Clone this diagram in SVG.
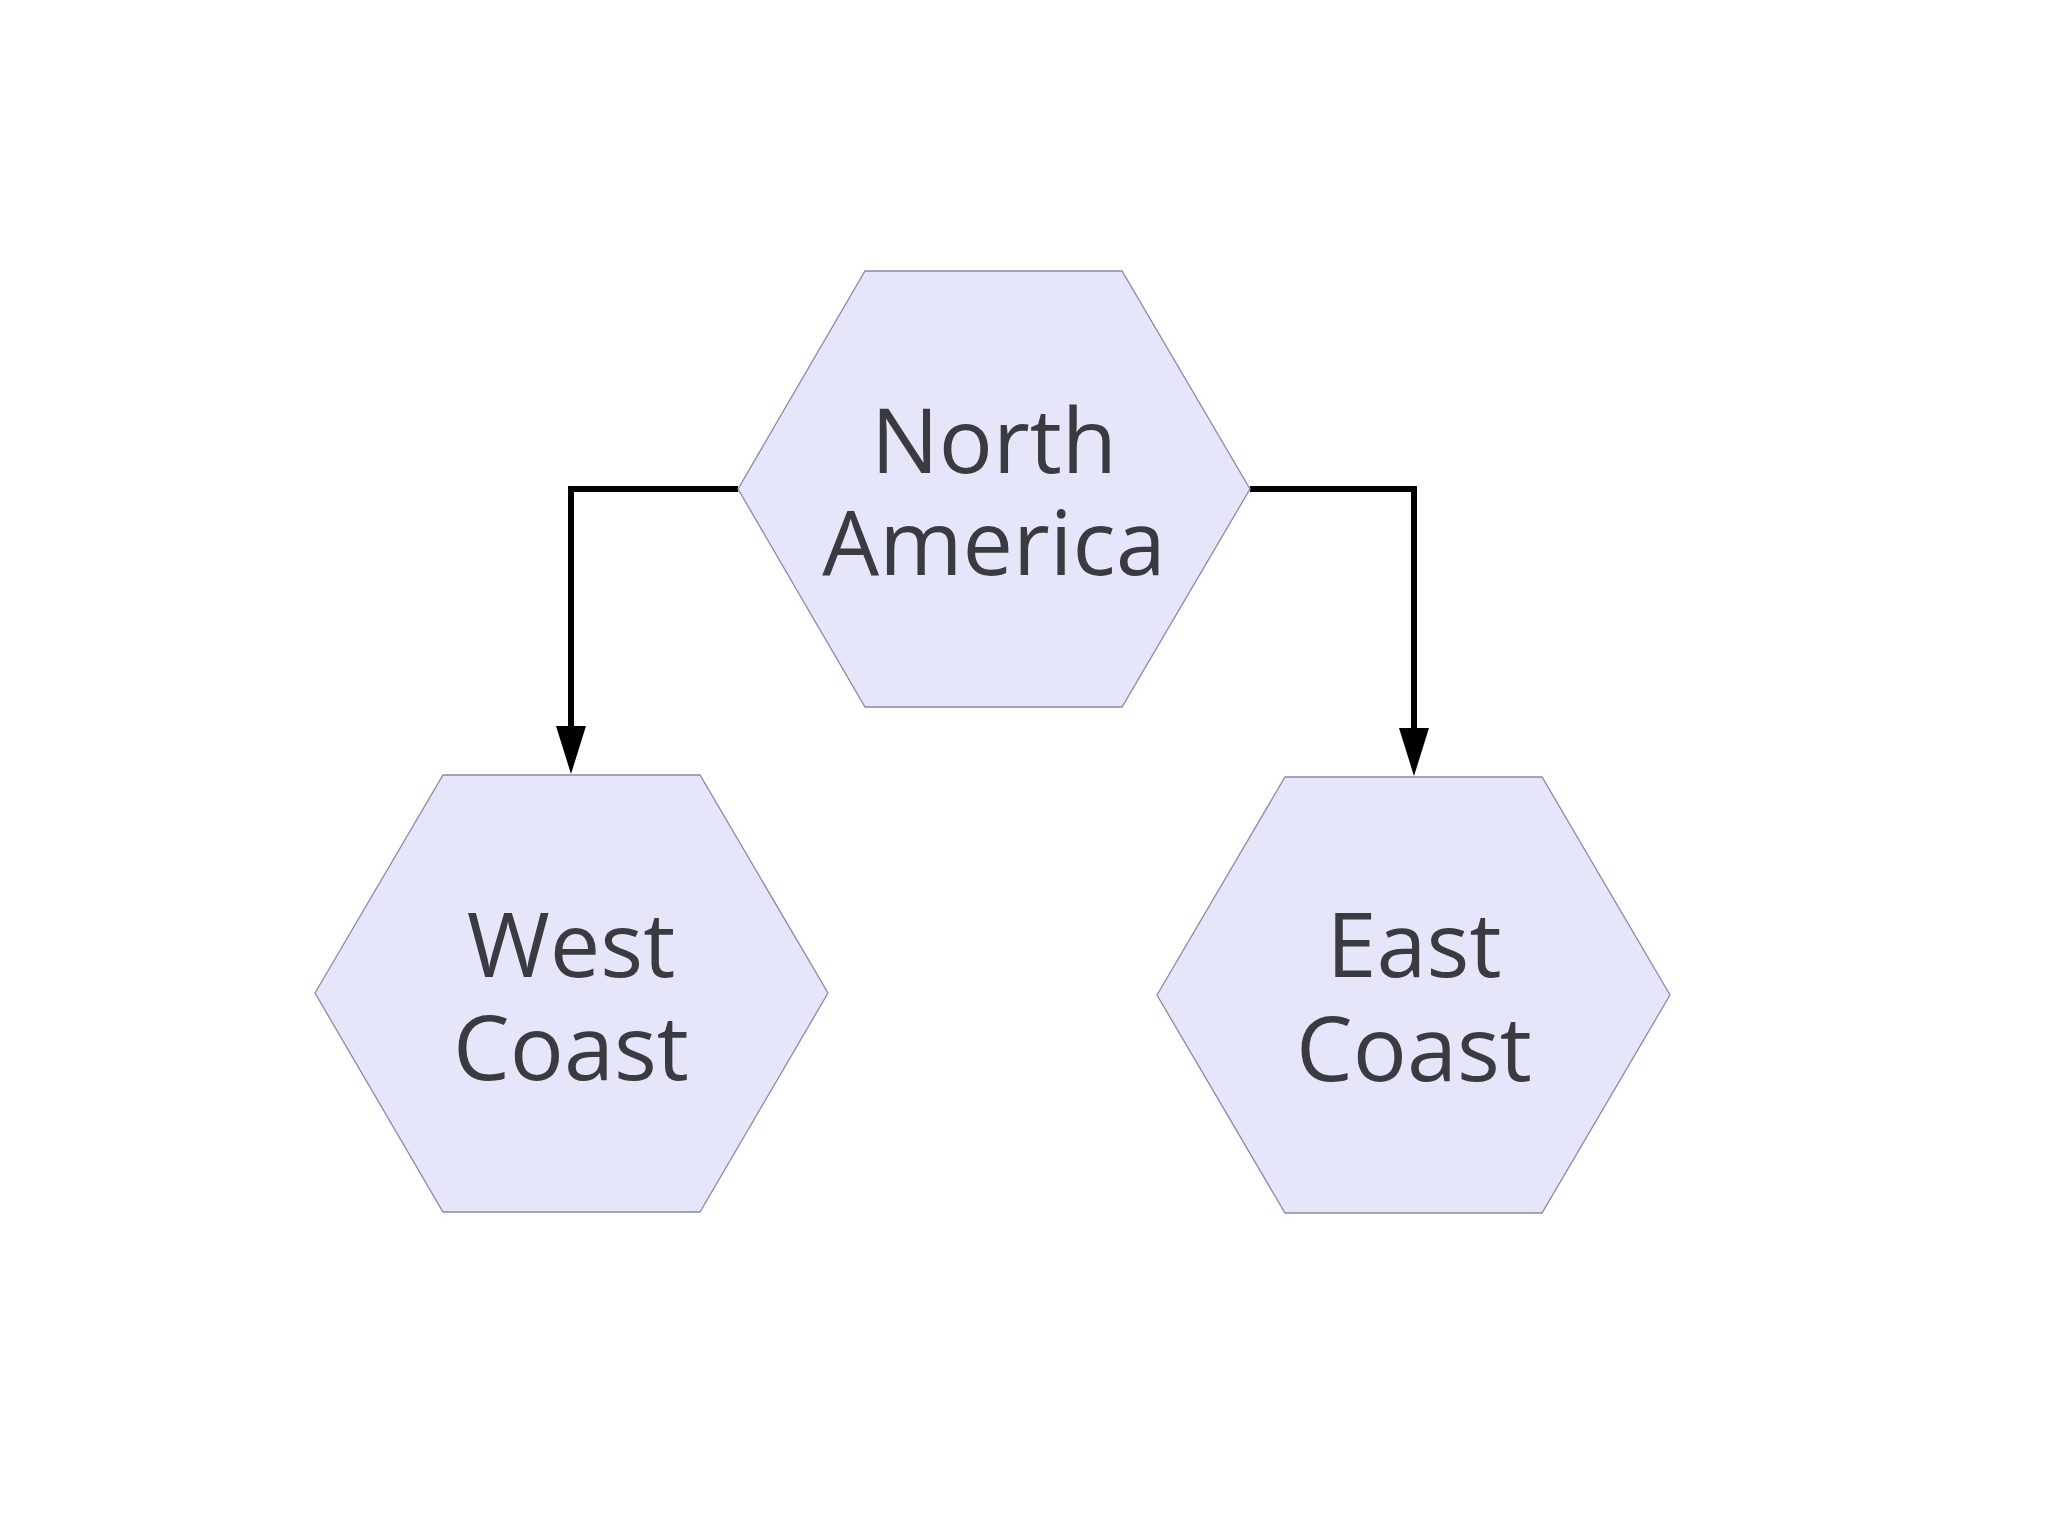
<svg xmlns="http://www.w3.org/2000/svg" width="2048" height="1535" viewBox="0 0 2048 1535">
<style>
.hex{fill:#e6e6fb;stroke:#8c88a8;stroke-width:1.3}
.t{font-family:"Open Sans","Noto Sans",sans-serif;font-size:90px;fill:#3a3a40;text-anchor:middle}
.c{fill:none;stroke:#000;stroke-width:6}
</style>
<rect width="2048" height="1535" fill="#fff"/>
<g id="edges">
<path class="c" d="M738,489 H571 V726"/>
<path d="M556,726 L586,726 L571,774 Z"/>
<path class="c" d="M1250,489 H1414 V728"/>
<path d="M1399,728 L1429,728 L1414,776 Z"/>
</g>
<g id="north-america"><polygon class="hex" points="738,489 865,271 1122,271 1250,489 1122,707 865,707"/><text class="t" x="994" y="473">North</text><text class="t" x="994" y="575">America</text></g>
<g id="west-coast"><polygon class="hex" points="315,993 443,775 700,775 828,993 700,1212 443,1212"/><text class="t" x="571" y="977">West</text><text class="t" x="571" y="1080">Coast</text></g>
<g id="east-coast"><polygon class="hex" points="1157,995 1285,777 1542,777 1670,995 1542,1213 1285,1213"/><text class="t" x="1414" y="977">East</text><text class="t" x="1414" y="1081">Coast</text></g>
</svg>
